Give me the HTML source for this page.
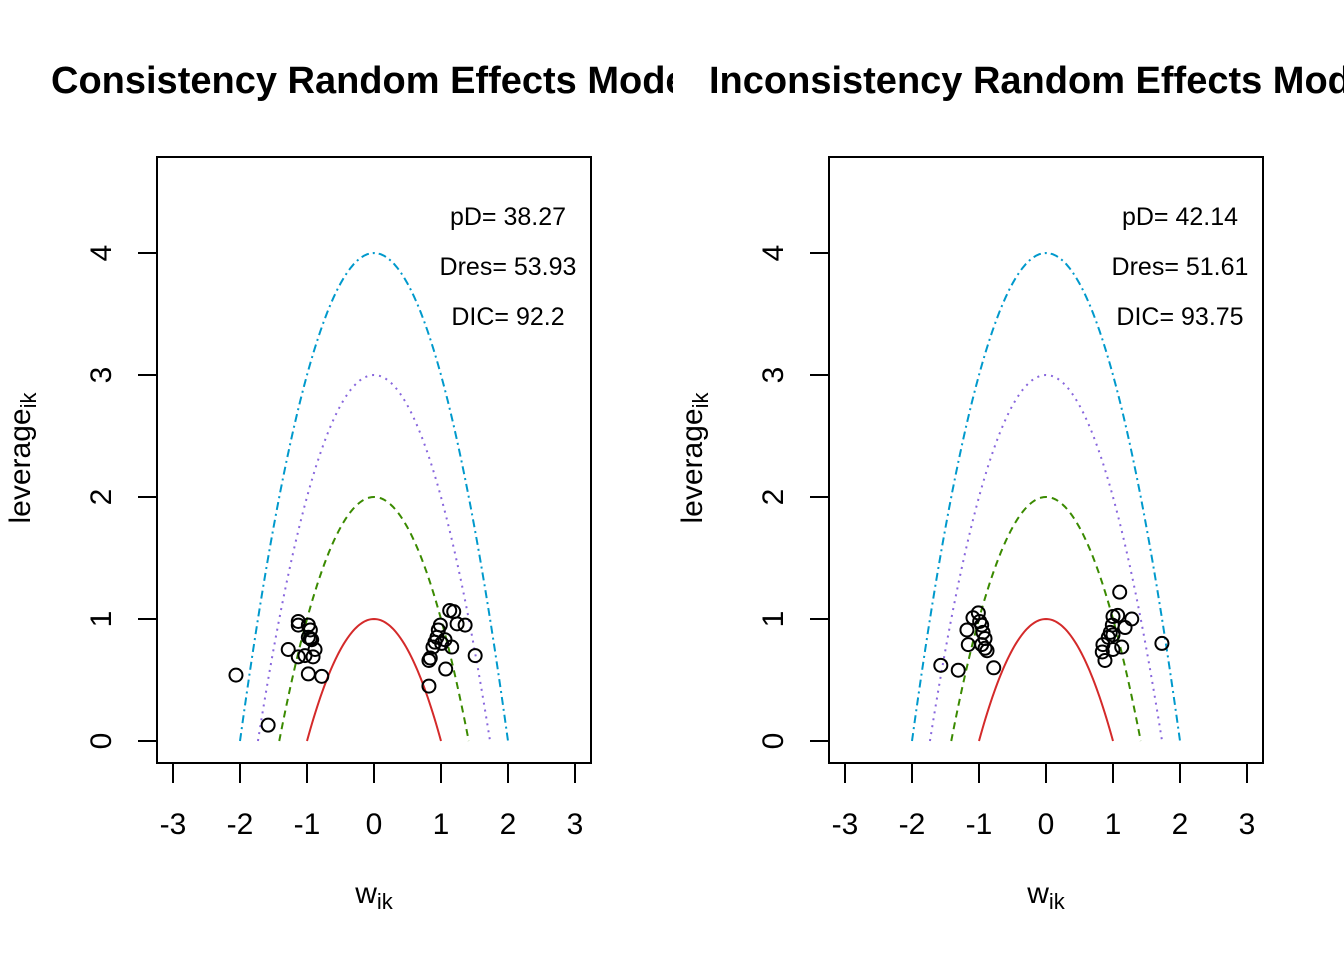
<!DOCTYPE html>
<html><head><meta charset="utf-8"><style>
html,body{margin:0;padding:0;background:#fff}
svg{display:block;font-family:"Liberation Sans",Arial,sans-serif}
</style></head><body>
<svg id="chart" width="1344" height="960" viewBox="0 0 1344 960">
<defs>
<clipPath id="clipL"><rect x="0" y="0" width="673" height="960"/></clipPath>
<clipPath id="clipR"><rect x="673" y="0" width="671" height="960"/></clipPath>
</defs>
</svg>
<script>
const xTicks=[-3,-2,-1,0,1,2,3];
const yTicks=[0,1,2,3,4];
const curveLevels=[1,2,3,4];
const curveColors=['#d42a2a','#3a8a00','#8866dd','#0099cc'];
const curveDash=['none','7,5','2,5','8,4,2,4'];
const consX=[-2.06,-1.58,-1.13,-1.13,-1.28,-1.13,-0.98,-0.95,-0.93,-0.98,-0.88,-1.03,-0.91,-0.98,-0.78,-0.95,1.13,1.19,1.24,1.36,1.51,0.99,0.96,0.94,0.91,1.06,1.16,0.88,0.84,0.82,1.07,0.82,1.01];
const consY=[0.54,0.13,0.98,0.95,0.75,0.69,0.95,0.84,0.83,0.85,0.75,0.70,0.69,0.55,0.53,0.91,1.07,1.06,0.96,0.95,0.70,0.95,0.91,0.85,0.81,0.83,0.77,0.77,0.68,0.66,0.59,0.45,0.80];
const incX=[-1.57,-1.31,-0.78,-1.09,-1.01,-1.18,-1.16,-0.96,-0.94,-0.91,-0.91,-0.88,-0.99,-0.96,1.10,1.73,1.28,1.07,1.00,1.18,0.99,0.96,0.93,1.13,1.00,0.85,0.84,0.88,1.00];
const incY=[0.62,0.58,0.60,1.01,1.05,0.91,0.79,0.95,0.89,0.84,0.76,0.74,0.98,0.79,1.22,0.80,1.00,1.03,1.02,0.93,0.95,0.89,0.85,0.77,0.75,0.79,0.73,0.66,0.87];
const panels=[
 {name:'consistency',off:0,title:'Consistency Random Effects Model',titleX:51,stats:['pD= 38.27','Dres= 53.93','DIC= 92.2'],xs:consX,ys:consY,clip:'clipL'},
 {name:'inconsistency',off:672,title:'Inconsistency Random Effects Model',titleX:709,stats:['pD= 42.14','Dres= 51.61','DIC= 93.75'],xs:incX,ys:incY,clip:'clipR'}
];
const NS='http://www.w3.org/2000/svg';
const svg=document.getElementById('chart');
function mk(tag,attrs,parent){const e=document.createElementNS(NS,tag);for(const k in attrs)e.setAttribute(k,attrs[k]);(parent||svg).appendChild(e);return e;}
panels.forEach(p=>{
 const g=mk('g',{});
 
 
 const sx=v=>p.off+374+v*67;
 const sy=v=>741-v*122;
 const t=mk('text',{x:p.titleX,y:93,'font-size':'38','font-weight':'bold','clip-path':'url(#'+p.clip+')'},g);
 t.textContent=p.title;
 
 
 const box=mk('rect',{x:p.off+157,y:157,width:434,height:606,fill:'none',stroke:'#000','stroke-width':2},g);
 
 
 xTicks.forEach(v=>{
  const l=mk('line',{x1:sx(v),x2:sx(v),y1:764,y2:783,stroke:'#000','stroke-width':2},g);
  
  
  const tx=mk('text',{x:sx(v),y:834,'font-size':'30','text-anchor':'middle'},g);
  tx.textContent=String(v);
  
  
 });
 yTicks.forEach(v=>{
  const l=mk('line',{x1:p.off+138,x2:p.off+157,y1:sy(v),y2:sy(v),stroke:'#000','stroke-width':2},g);
  
  
  const tx=mk('text',{x:0,y:0,'font-size':'30','text-anchor':'middle',transform:'translate('+(p.off+111)+','+sy(v)+') rotate(-90)'},g);
  tx.textContent=v;
  
  
 });
 const xl=mk('text',{x:p.off+374,y:903,'font-size':'30','text-anchor':'middle'},g);
 xl.innerHTML='w<tspan font-size="22" dy="6">ik</tspan>';
 
 
 const yl=mk('text',{x:0,y:0,'font-size':'30','text-anchor':'middle',transform:'translate('+(p.off+30)+',458) rotate(-90)'},g);
 yl.innerHTML='leverage<tspan font-size="22" dy="6">ik</tspan>';
 
 
 curveLevels.forEach((c,i)=>{
  const r=Math.sqrt(c);let d='';
  for(let k=0;k<=80;k++){const x=-r+2*r*k/80;const y=c-x*x;d+=(k?'L':'M')+sx(x).toFixed(2)+','+sy(y).toFixed(2);}
  const path=mk('path',{d:d,fill:'none',stroke:curveColors[i],'stroke-width':2,'stroke-dasharray':curveDash[i]},g);
  
  
 });
 p.xs.forEach((x,i)=>{
  const c=mk('circle',{cx:sx(x),cy:sy(p.ys[i]),r:6.5,fill:'none',stroke:'#000','stroke-width':2},g);
  
  
 });
 p.stats.forEach((s,i)=>{
  const tx=mk('text',{x:p.off+508,y:225+i*50,'font-size':'25','text-anchor':'middle'},g);
  tx.textContent=s;
  
  
 });
});
</script>
</body></html>
